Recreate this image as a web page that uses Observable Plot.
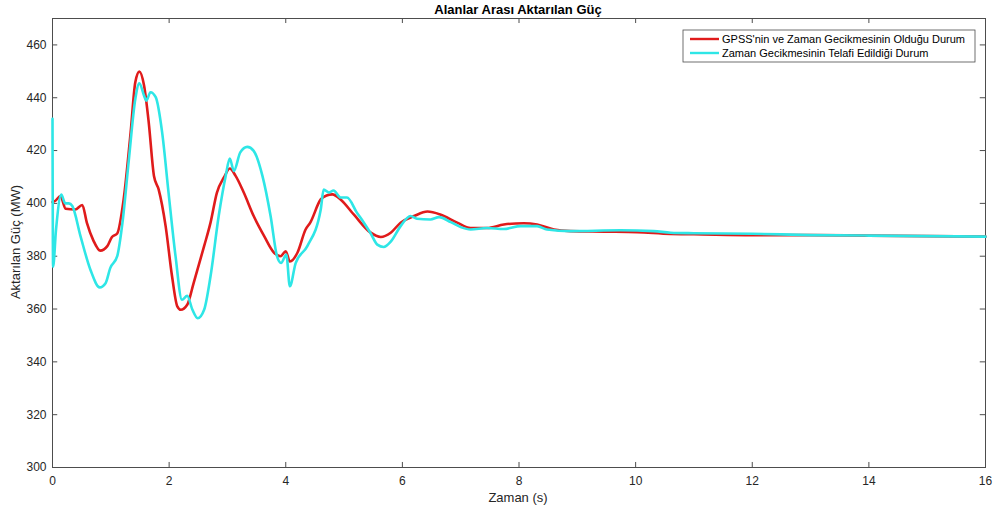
<!DOCTYPE html>
<html>
<head>
<meta charset="utf-8">
<script src="https://cdn.jsdelivr.net/npm/d3@7"></script>
<script src="https://cdn.jsdelivr.net/npm/@observablehq/plot@0.6"></script>
<style>
  html, body { margin: 0; padding: 0; background: #fff; }
  #chart { width: 993px; height: 513px; }
  svg { font-family: "Liberation Sans", Arial, sans-serif; }
</style>
</head>
<body>
<div id="chart"></div>
<script>
const title = "Alanlar Arası Aktarılan Güç";
const xLabel = "Zaman (s)";
const yLabel = "Aktarılan Güç (MW)";
const seriesNames = ["GPSS'nin ve Zaman Gecikmesinin Olduğu Durum", "Zaman Gecikmesinin Telafi Edildiği Durum"];
const seriesColors = ["#e01b1b", "#2ee6e6"];
const xTicks = [0, 2, 4, 6, 8, 10, 12, 14, 16];
const yTicks = [300, 320, 340, 360, 380, 400, 420, 440, 460];

const redT = [0, 0.05, 0.137, 0.225, 0.39, 0.51, 0.59, 0.7, 0.82, 0.94, 1.02, 1.11, 1.22, 1.34, 1.42, 1.49, 1.57, 1.65, 1.74, 1.82, 1.94, 2.05, 2.14, 2.2, 2.31, 2.42, 2.6, 2.71, 2.82, 2.94, 3.04, 3.14, 3.28, 3.45, 3.63, 3.8, 3.91, 4.0, 4.07, 4.2, 4.34, 4.42, 4.6, 4.7, 4.8, 4.94, 5.17, 5.45, 5.63, 5.8, 5.97, 6.2, 6.43, 6.65, 6.94, 7.17, 7.45, 7.74, 8.08, 8.31, 8.6, 8.88, 9.46, 10.03, 10.6, 11, 12, 13, 14, 15, 16];
const redV = [400.5, 401, 402.8, 398, 397.7, 399.4, 392.6, 386, 382.1, 383.8, 387.3, 388.6, 401.5, 426.9, 445.9, 449.9, 444.6, 430.7, 410.4, 405.3, 391.4, 372.4, 361, 359.7, 361.6, 369.8, 383.8, 392.7, 404.1, 409.8, 413.2, 410.4, 404.1, 395.2, 387.6, 381.3, 380, 381.9, 378, 381.3, 390.1, 392.7, 401.5, 403, 403.4, 401.5, 395.7, 389, 387.3, 388.9, 392.7, 395.2, 396.9, 395.8, 392.7, 390.7, 390.7, 392, 392.5, 392, 390.1, 389.5, 389.3, 389.1, 388.4, 388.3, 388, 388, 387.8, 387.6, 387.4];

const cyanT = [0, 0.01, 0.06, 0.15, 0.22, 0.28, 0.34, 0.48, 0.65, 0.81, 0.91, 0.99, 1.11, 1.2, 1.31, 1.42, 1.49, 1.57, 1.61, 1.68, 1.77, 1.88, 1.99, 2.11, 2.22, 2.31, 2.4, 2.49, 2.6, 2.71, 2.85, 2.97, 3.04, 3.11, 3.22, 3.34, 3.45, 3.6, 3.74, 3.85, 3.92, 4.01, 4.07, 4.17, 4.37, 4.6, 4.65, 4.74, 4.82, 4.94, 5.05, 5.22, 5.34, 5.45, 5.57, 5.68, 5.8, 5.97, 6.14, 6.25, 6.48, 6.63, 6.83, 7.0, 7.17, 7.45, 7.74, 8.03, 8.31, 8.48, 8.88, 9.74, 10.31, 10.6, 11, 12, 13, 14, 15, 16];
const cyanV = [432, 376, 390, 403.3, 400, 400, 399, 387.6, 374.9, 368.2, 369.8, 375.5, 380, 392.7, 416.7, 439.5, 445.5, 440.8, 438.9, 442.1, 440.2, 426.9, 404.1, 380, 363.5, 365, 359.7, 356.5, 359.7, 372.4, 395.2, 410.4, 417, 412.3, 419.3, 421.4, 419.9, 410.4, 395.2, 380, 377.4, 380.6, 368.6, 377.4, 383.8, 397.7, 405.2, 404.1, 404.9, 402.2, 402.2, 396.5, 392.7, 388.9, 384.4, 383.5, 385.5, 391.4, 395.2, 394.2, 393.9, 394.8, 392.9, 391, 390.1, 390.7, 390.3, 391.4, 391.4, 390.1, 389.5, 389.8, 389.5, 388.9, 388.7, 388.5, 388, 387.8, 387.6, 387.4];

const red = redT.map((t, i) => ({t, v: redV[i]}));
const cyan = cyanT.map((t, i) => ({t, v: cyanV[i]}));

const xDom = [0, 16], yDom = [300, 470];
const txLen = 0.09, tyLen = 1.9;
const axisColor = "#4d4d4d";

const plot = Plot.plot({
  width: 993,
  height: 513,
  marginLeft: 52,
  marginRight: 8,
  marginTop: 18,
  marginBottom: 46,
  style: {fontFamily: "'Liberation Sans', Arial, sans-serif", fontSize: "12px", color: "#262626", background: "#fff"},
  x: {domain: xDom, ticks: xTicks, label: null},
  y: {domain: yDom, ticks: yTicks, label: null},
  marks: [
    Plot.axisX(xTicks, {tickSize: 0, tickPadding: 9, fontSize: 12, fill: "#262626"}),
    Plot.axisY(yTicks, {tickSize: 0, tickPadding: 6, fontSize: 12, fill: "#262626"}),
    Plot.ruleX(xTicks, {x: d => d, y1: yDom[0], y2: yDom[0] + tyLen, stroke: axisColor}),
    Plot.ruleX(xTicks, {x: d => d, y1: yDom[1] - tyLen, y2: yDom[1], stroke: axisColor}),
    Plot.ruleY(yTicks, {y: d => d, x1: xDom[0], x2: xDom[0] + txLen, stroke: axisColor}),
    Plot.ruleY(yTicks, {y: d => d, x1: xDom[1] - txLen, x2: xDom[1], stroke: axisColor}),
    Plot.frame({stroke: axisColor, strokeWidth: 1}),
    Plot.line(red, {x: "t", y: "v", stroke: seriesColors[0], strokeWidth: 2.6, curve: "monotone-x"}),
    Plot.line(cyan, {x: "t", y: "v", stroke: seriesColors[1], strokeWidth: 2.6, curve: "monotone-x"})
  ]
});

document.getElementById("chart").appendChild(plot);

const svg = d3.select(plot);
svg.append("text").attr("x", 518).attr("y", 14).attr("text-anchor", "middle")
  .attr("font-size", 13).attr("font-weight", "bold").attr("fill", "#000").text(title);
svg.append("text").attr("x", 518).attr("y", 502).attr("text-anchor", "middle")
  .attr("font-size", 13).attr("fill", "#262626").text(xLabel);
svg.append("text").attr("transform", "translate(20,242) rotate(-90)").attr("text-anchor", "middle")
  .attr("font-size", 13).attr("fill", "#262626").text(yLabel);

const lg = svg.append("g").attr("transform", "translate(683,30)");
lg.append("rect").attr("width", 292).attr("height", 32).attr("fill", "#fff").attr("stroke", "#4d4d4d").attr("stroke-width", 0.8);
seriesNames.forEach((name, i) => {
  const yy = 9 + i * 14;
  lg.append("line").attr("x1", 7).attr("x2", 36).attr("y1", yy).attr("y2", yy)
    .attr("stroke", seriesColors[i]).attr("stroke-width", 2.4);
  lg.append("text").attr("x", 39).attr("y", yy + 4).attr("text-anchor", "start")
    .attr("font-size", 11).attr("fill", "#000").text(name);
});
</script>
</body>
</html>
